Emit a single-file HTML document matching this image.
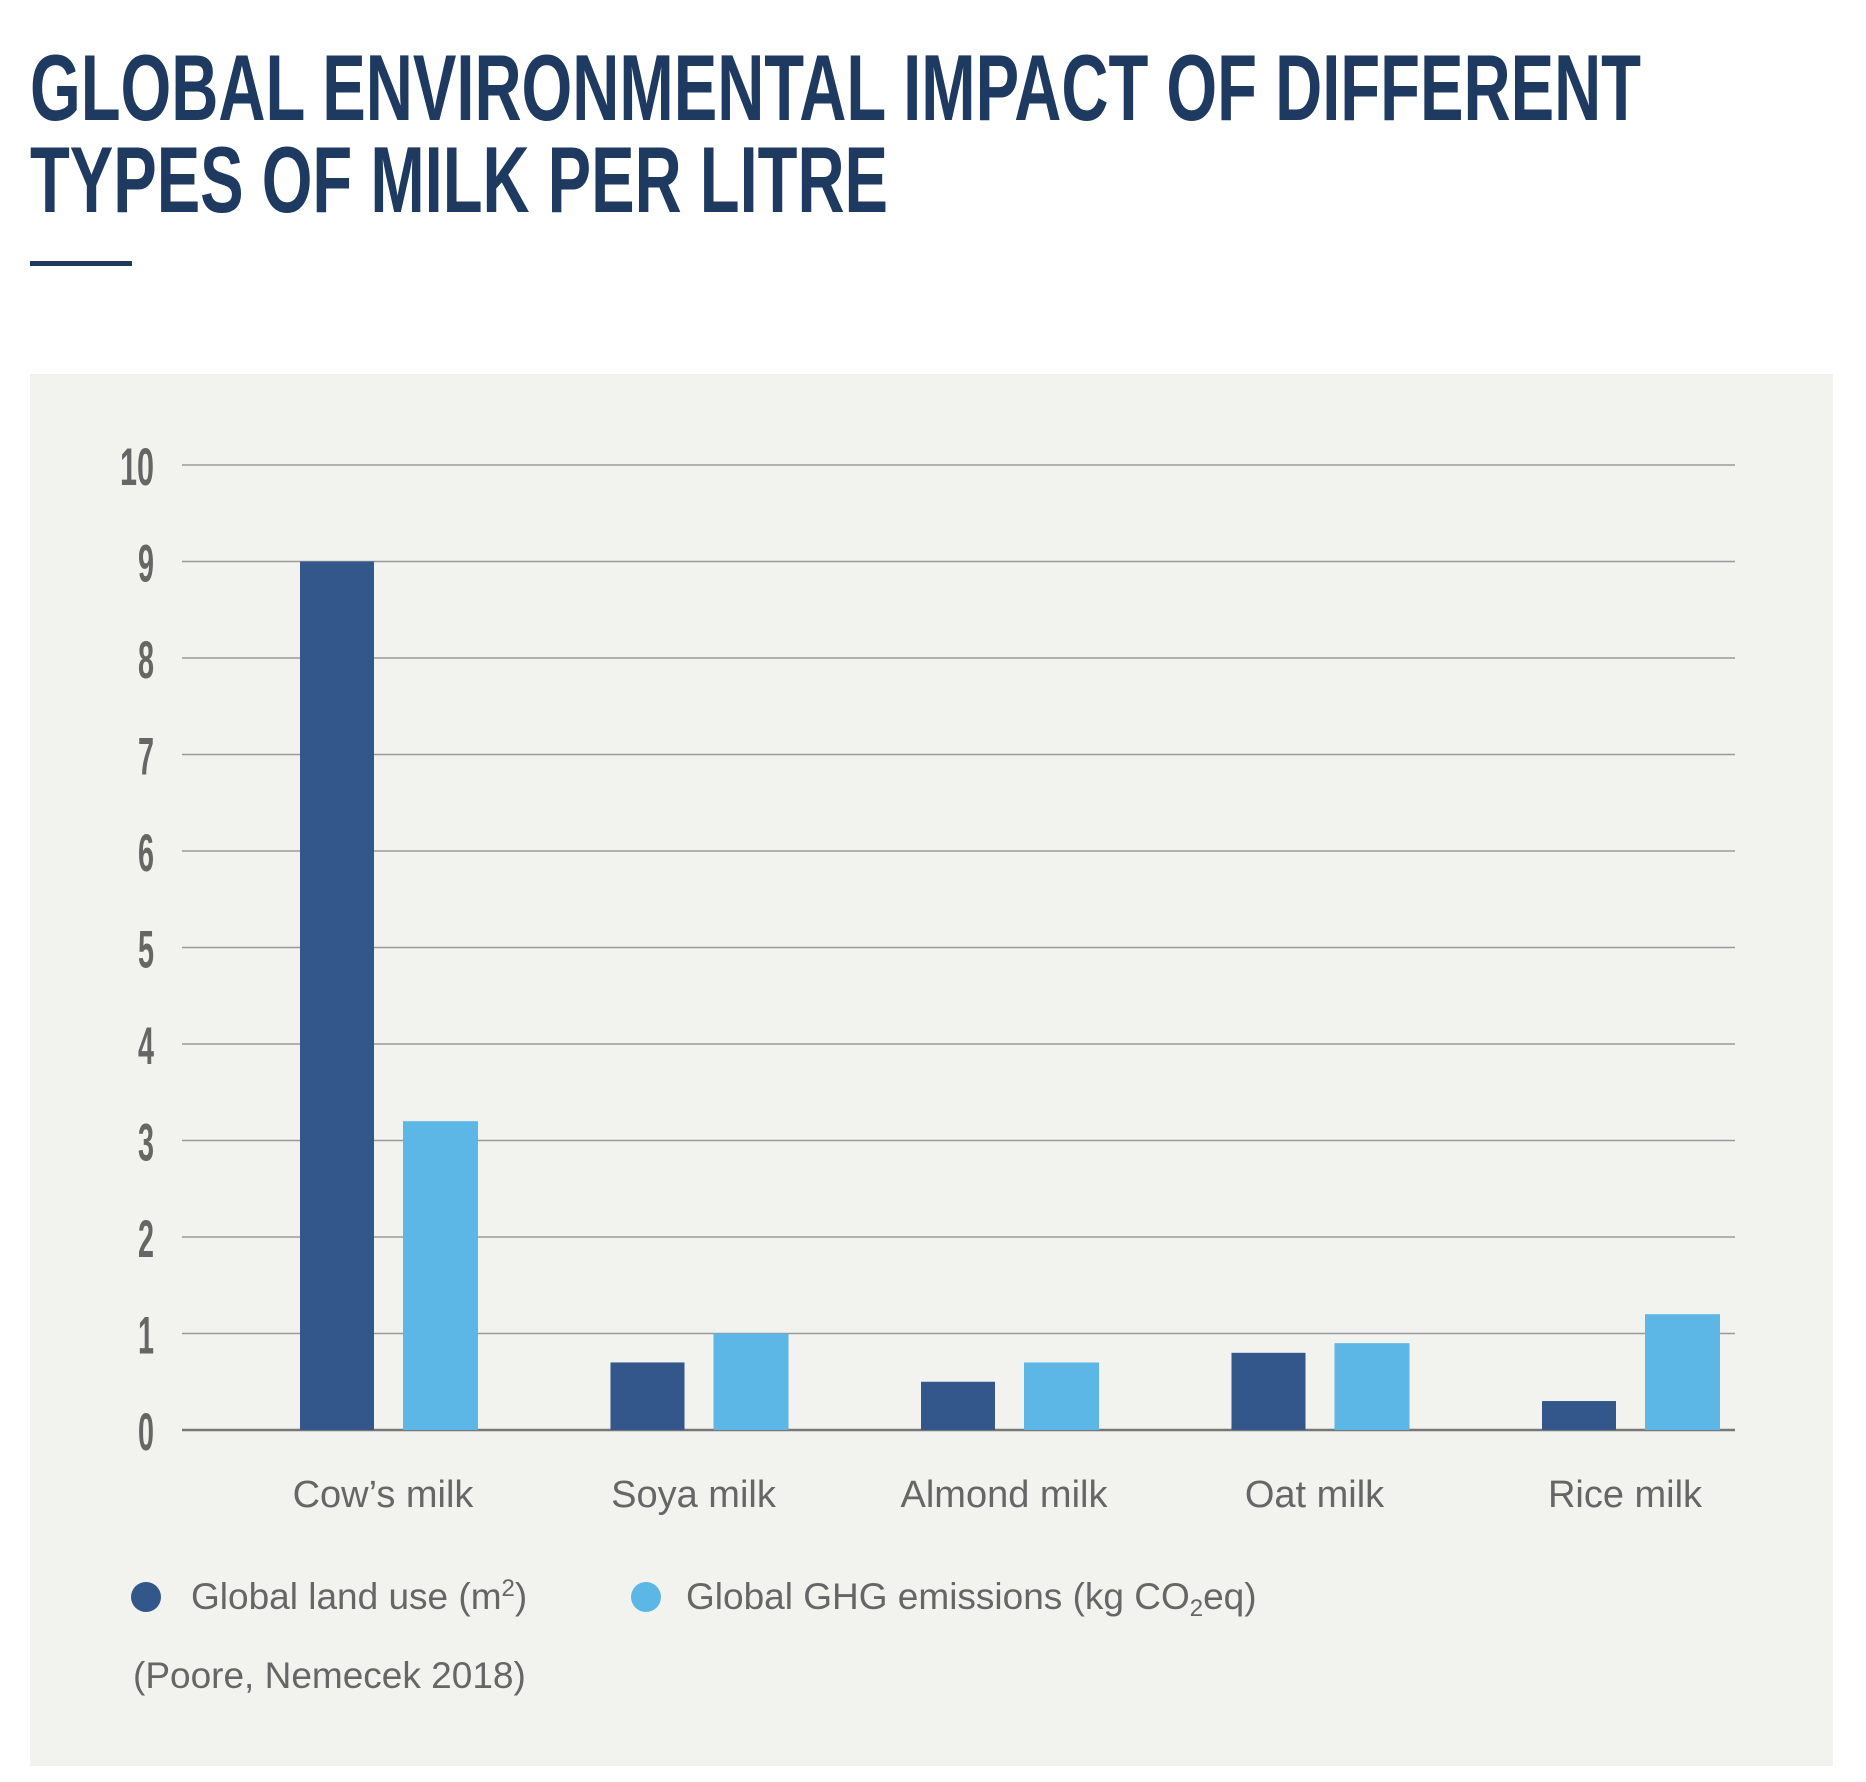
<!DOCTYPE html>
<html><head><meta charset="utf-8">
<style>
body{margin:0;width:1866px;height:1777px;background:#fff;overflow:hidden;font-family:"Liberation Sans",sans-serif}
</style></head><body>
<svg width="1866" height="1777" xmlns="http://www.w3.org/2000/svg">
<g font-family="'Liberation Sans Narrow','Liberation Sans',sans-serif" font-weight="bold" fill="#1f3a60" font-size="94">
<text x="30" y="120" textLength="1611" lengthAdjust="spacingAndGlyphs">GLOBAL ENVIRONMENTAL IMPACT OF DIFFERENT</text>
<text x="30" y="212" textLength="858" lengthAdjust="spacingAndGlyphs">TYPES OF MILK PER LITRE</text>
</g>
<rect x="30" y="261" width="102" height="5" fill="#1f3a60"/>
<rect x="30" y="374" width="1803" height="1392" fill="#f2f2ef"/>
<g id="grid"></g>
<g id="ylabels"></g>
<g id="bars"></g>
<g id="xlabels"></g>
<g font-size="37" fill="#666">
<g><circle cx="146" cy="1597" r="15" fill="#33578a"/><text x="191" y="1609">Global land use (m<tspan dy="-13" font-size="24">2</tspan><tspan dy="13">)</tspan></text></g>
<g><circle cx="646" cy="1597" r="15" fill="#5db7e6"/><text x="686" y="1609">Global GHG emissions (kg CO<tspan dy="7" font-size="24">2</tspan><tspan dy="-7">eq)</tspan></text></g>
</g>
<text x="133" y="1688" font-size="37" fill="#666">(Poore, Nemecek 2018)</text>
</svg>
<script>
const categories=["Cow’s milk","Soya milk","Almond milk","Oat milk","Rice milk"];
const landUse=[9,0.7,0.5,0.8,0.3];
const ghg=[3.2,1.0,0.7,0.9,1.2];
const yTicks=[0,1,2,3,4,5,6,7,8,9,10];
const NS="http://www.w3.org/2000/svg";
const y0=1430,unit=96.5,x0=182,x1=1735;
const y=v=>y0-v*unit;
const gx=i=>300+i*310.5;
function mk(tag,attrs,parent){const e=document.createElementNS(NS,tag);for(const k in attrs)e.setAttribute(k,attrs[k]);parent.appendChild(e);return e;}
const grid=document.getElementById('grid'),yl=document.getElementById('ylabels'),bars=document.getElementById('bars'),xl=document.getElementById('xlabels');
yTicks.forEach(t=>{
 const l=mk('line',{x1:x0,x2:x1,y1:y(t),y2:y(t),stroke:t===0?'#777':'#999','stroke-width':t===0?2.5:1.5},grid);
 
 
 const s=String(t);
 const tx=mk('text',{x:156-s.length*18,y:y(t)+20,'font-size':53,'font-weight':'bold',fill:'#666','font-family':"'Liberation Sans Narrow','Liberation Sans',sans-serif",textLength:s.length*18-2,lengthAdjust:'spacingAndGlyphs'},yl);
 tx.textContent=s;
 
 
});
categories.forEach((c,i)=>{
 const b1=mk('rect',{x:gx(i),y:y(landUse[i]),width:74,height:landUse[i]*unit,fill:'#33578a'},bars);
 
 
 const b2=mk('rect',{x:gx(i)+103,y:y(ghg[i]),width:75,height:ghg[i]*unit,fill:'#5db7e6'},bars);
 
 
 const t=mk('text',{x:gx(i)+83,y:1507,'text-anchor':'middle','font-size':38,fill:'#666'},xl);
 t.textContent=c;
 
 
});
</script>
</body></html>
